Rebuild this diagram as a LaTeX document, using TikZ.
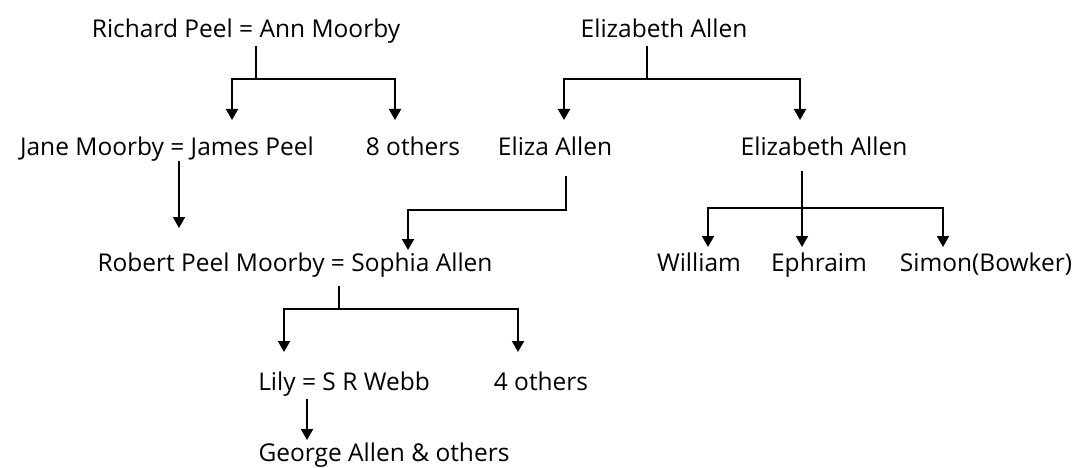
\documentclass[tikz,border=0pt]{standalone}
\usepackage{fontspec}
\setmainfont{Open Sans}
\usetikzlibrary{arrows.meta}

\begin{document}
\begin{tikzpicture}[x=1pt,y=-1pt,>={Triangle[width=12pt,length=11pt]},
  line width=1.8pt,
  person/.style={anchor=base,inner sep=0pt,text depth=0pt,font=\fontsize{24.5}{29}\selectfont}]
\useasboundingbox (0,0) rectangle (1079,468);

% first generation
  \node[person] (rp) at (246,38) {Richard Peel = Ann Moorby};
  \node[person] (ea) at (664,38) {Elizabeth Allen};

% second generation
  \node[person] (jm) at (167,156) {Jane Moorby = James Peel};
  \node[person] (eo) at (413,156) {8 others};
  \node[person] (eliza) at (555,156) {Eliza Allen};
  \node[person] (eb) at (824,156) {Elizabeth Allen};

% third generation
  \node[person] (robert) at (295,271) {Robert Peel Moorby = Sophia Allen};
  \node[person] (william) at (699,271) {William};
  \node[person] (ephraim) at (819,271) {Ephraim};
  \node[person] (simon) at (986,271) {Simon(Bowker)};

% fourth and fifth generation
  \node[person] (lily) at (344,390) {Lily = S R Webb};
  \node[person] (fo) at (541,390) {4 others};
  \node[person] (george) at (384,461) {George Allen \& others};

% junctions and arrow ends
  \coordinate (rpj) at (256,79);
  \coordinate (eaj) at (647,79);
  \coordinate (elizaj) at (566,210);
  \coordinate (ebj) at (802,208);
  \coordinate (robertj) at (339,309);
  \coordinate (jm-in) at (232,120);
  \coordinate (eo-in) at (395,120);
  \coordinate (eliza-in) at (564,120);
  \coordinate (eb-in) at (800,120);
  \coordinate (robert-in) at (179,228);
  \coordinate (sophia-in) at (408,250);
  \coordinate (william-in) at (708,247);
  \coordinate (ephraim-in) at (802,247);
  \coordinate (simon-in) at (943,247);
  \coordinate (lily-in) at (284,352);
  \coordinate (fo-in) at (518,352);
  \coordinate (george-in) at (307,440);

  \draw[shorten <=7pt] (rp.south -| rpj) -- (rpj);
  \draw[->] (rpj) -| (jm-in);
  \draw[->] (rpj) -| (eo-in);

  \draw[shorten <=7pt] (ea.south -| eaj) -- (eaj);
  \draw[->] (eaj) -| (eliza-in);
  \draw[->] (eaj) -| (eb-in);

  \draw[->,shorten <=4pt] (jm.south -| robert-in) -- (robert-in);
  \draw[->,shorten <=19pt] (eliza.south -| elizaj) -- (elizaj) -| (sophia-in);

  \draw[->,shorten <=14pt] (eb.south -| ebj) -- (ephraim-in);
  \draw[->] (ebj) -| (william-in);
  \draw[->] (ebj) -| (simon-in);

  \draw[shorten <=14pt] (robert.south -| robertj) -- (robertj);
  \draw[->] (robertj) -| (lily-in);
  \draw[->] (robertj) -| (fo-in);

  \draw[->,shorten <=8pt] (lily.south -| george-in) -- (george-in);

\end{tikzpicture}
\end{document}
